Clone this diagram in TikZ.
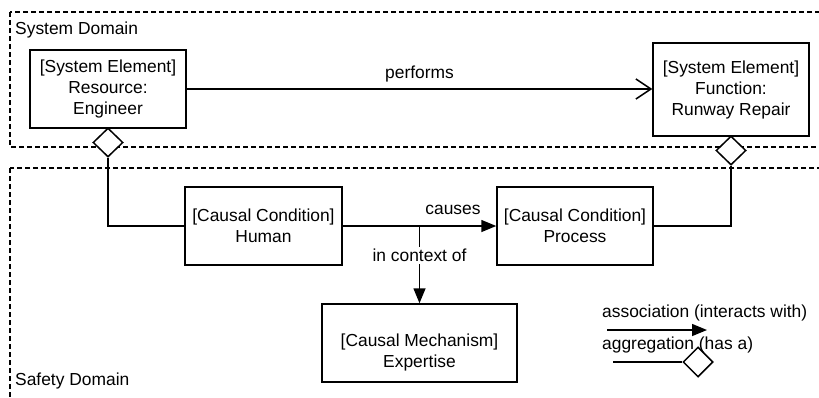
\documentclass[tikz,border=0pt]{standalone}
\usepackage{fontspec}
\setmainfont{Liberation Sans}
\usetikzlibrary{arrows.meta,shapes.geometric,calc}
\begin{document}
\begin{tikzpicture}[x=1pt,y=-1pt,
  font=\fontsize{17.4}{21}\selectfont,
  domainbox/.style={draw,dashed,dash pattern=on 5pt off 3pt,line width=1.3pt},
  box/.style={draw,line width=1.5pt,align=center,inner sep=0pt,fill=white},
  agg/.style={draw,diamond,line width=1.5pt,fill=white,inner sep=0pt,minimum width=30pt,minimum height=29pt},
  link/.style={line width=1.5pt},
  assoc/.style={link,-{Triangle[length=15pt,width=12pt]}},
  uses/.style={link,-{Straight Barb[length=15pt,width=20pt,line width=1.5pt]}},
  lbl/.style={fill=white,inner sep=2pt}]
\useasboundingbox (0,0) rectangle (819,397);
\clip (0,0) rectangle (819,397);

% domains
\draw[domainbox] (10,12) rectangle (840,147);
\draw[domainbox] (10,168) rectangle (840,420);
\node[anchor=west,inner sep=0pt] (sysdom) at (15,30) {System Domain};
\node[anchor=west,inner sep=0pt] (safdom) at (15,381) {Safety Domain};

% system elements
\node[box,minimum width=156pt,minimum height=78pt] (eng) at (108,89)
  {[System Element]\\Resource:\\Engineer};
\node[box,minimum width=156pt,minimum height=93pt] (fun) at (731,89.5)
  {[System Element]\\Function:\\Runway Repair};

% causal conditions and mechanism
\node[box,minimum width=157pt,minimum height=78pt] (hum) at (263.5,226)
  {[Causal Condition]\\Human};
\node[box,minimum width=156pt,minimum height=78pt] (proc) at (575,226)
  {[Causal Condition]\\Process};
\node[box,minimum width=195pt,minimum height=78pt] (exp) at (419.5,343) {};
\node[align=center,inner sep=0pt] (expt) at (419.5,352) {[Causal Mechanism]\\Expertise};

% aggregation diamonds
\node[agg] (engd) at (108,142.5) {};
\node[agg] (fund) at (731,150.5) {};

% connectors
\draw[uses] (eng.east) -- node[above=6pt,inner sep=0pt] (perf) {performs} (eng.east -| fun.west);
\draw[link] (engd.south) |- (hum.west);
\draw[link] (fund.south) |- (proc.east);
\draw[assoc] (hum.east) -- (proc.west);
\node[inner sep=0pt] (caus) at (453,210) {causes};
\coordinate (ctx) at (hum.east -| exp.north);
\draw[assoc] (ctx) -- node[lbl,pos=0.38] (ctxl) {in context of} (exp.north);

% legend
\node[anchor=west,inner sep=0pt] (lga) at (602,313) {association (interacts with)};
\coordinate (la1) at (607,330);
\coordinate (la2) at (707,330);
\draw[assoc] (la1) -- (la2);
\node[anchor=west,inner sep=0pt] (lgg) at (602,345) {aggregation (has a)};
\node[draw,diamond,line width=1.5pt,inner sep=0pt,minimum width=30pt,minimum height=30pt] (lgd) at (698,362) {};
\coordinate (lg1) at (613,362);
\draw[link] (lg1) -- (lgd.west);
\end{tikzpicture}
\end{document}
